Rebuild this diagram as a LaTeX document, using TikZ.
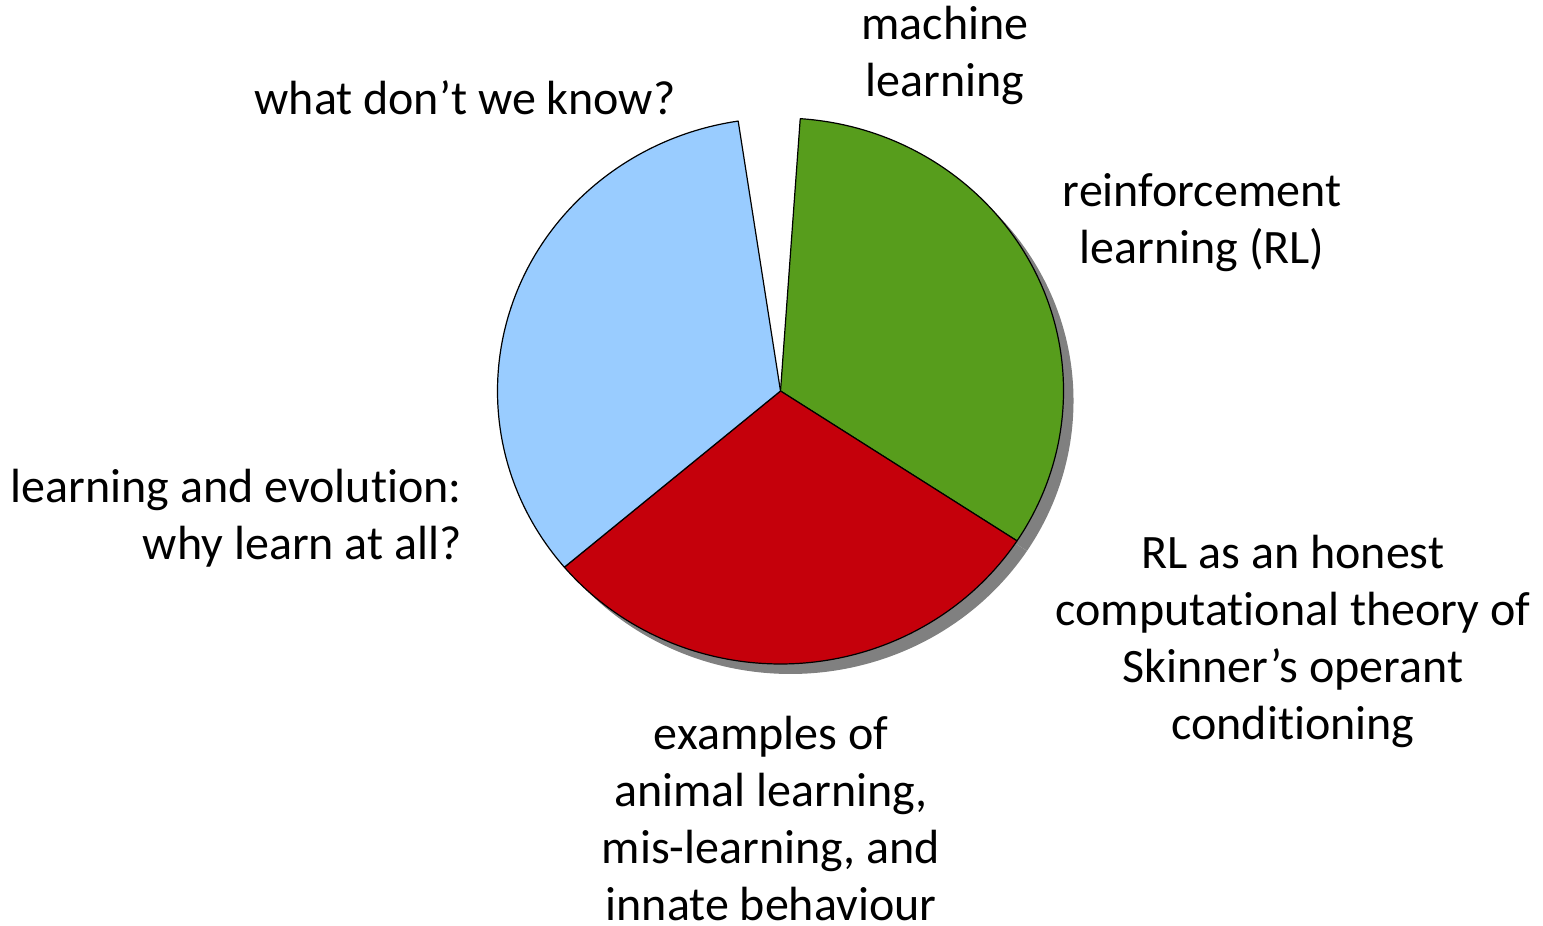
\documentclass[tikz,border=0pt]{standalone}
\usepackage{fontspec}
\setmainfont{Carlito}[Ligatures=CommonOff]
\begin{document}
\begin{tikzpicture}[x=0.5pt,y=0.5pt,
  slice/.style={draw=black,line width=0.6pt,line join=round},
  shade/.style={fill=shadowgray},
  lbl/.style={inner sep=0pt,font=\fontsize{24}{28.5}\selectfont,align=center,anchor=base},
  pie/.style={x radius=141.5pt,y radius=136.5pt}]
\definecolor{skyblue}{HTML}{99CCFF}
\definecolor{leafgreen}{HTML}{579D1C}
\definecolor{deepred}{HTML}{C5000B}
\definecolor{shadowgray}{HTML}{808080}
\useasboundingbox (0,0) rectangle (1543,926);

% pie centre and shadow offset
\coordinate (C) at (780.5,535);
\coordinate (S) at (790.5,525);

% drop shadows of the green and red slices
\fill[shade] (S) -- ++(86:141.5pt and 136.5pt) arc[pie,start angle=86,end angle=-33.3] -- cycle;
\fill[shade] (S) -- ++(-33.3:141.5pt and 136.5pt) arc[pie,start angle=-33.3,end angle=-139.8] -- cycle;

% slices
\filldraw[slice,fill=leafgreen] (C) -- ++(86:141.5pt and 136.5pt) arc[pie,start angle=86,end angle=-33.3] -- cycle;
\filldraw[slice,fill=deepred] (C) -- ++(-33.3:141.5pt and 136.5pt) arc[pie,start angle=-33.3,end angle=-139.8] -- cycle;
\filldraw[slice,fill=skyblue] (C) -- ++(220.2:141.5pt and 136.5pt) arc[pie,start angle=220.2,end angle=98.6] -- cycle;

% labels (anchored at the baseline of their last line)
\node[lbl] (ml) at (945,829) {machine\\learning};
\node[lbl] (wd) at (465,811) {what don’t we know?};
\node[lbl] (rl) at (1202,662) {reinforcement\\learning (RL)};
\node[lbl,align=right,anchor=base east] (le) at (462,366) {learning and evolution:\\why learn at all?};
\node[lbl] (sk) at (1293,186) {RL as an honest\\computational theory of\\Skinner’s operant\\conditioning};
\node[lbl] (ex) at (771,5) {examples of\\animal learning,\\mis-learning, and\\innate behaviour};
\end{tikzpicture}
\end{document}
